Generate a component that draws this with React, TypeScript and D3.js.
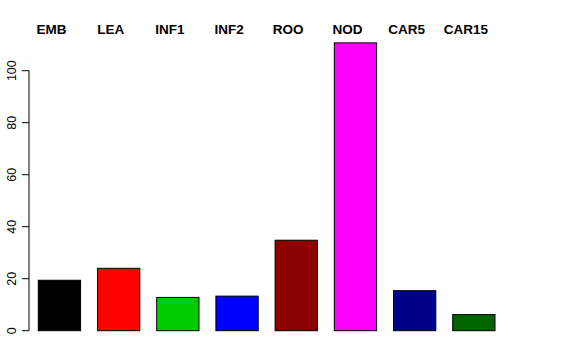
import React from "react";
import * as d3 from "d3";

const categories = ["EMB", "LEA", "INF1", "INF2", "ROO", "NOD", "CAR5", "CAR15"];
const values = [19.4, 24.0, 12.8, 13.3, 34.8, 110.7, 15.4, 6.2];
const colors = ["#000000", "#FF0000", "#00CD00", "#0000FF", "#8B0000", "#FF00FF", "#00008B", "#006400"];
const yTicks = [0, 20, 40, 60, 80, 100];

const W = 576;
const H = 360;

export default function App() {
  const x = d3.scaleBand<string>().domain(categories).range([38.3, 495]).paddingInner(0.4 / 1.4).paddingOuter(0);
  const y = d3.scaleLinear().domain([0, 100]).range([330.7, 70.7]);
  const axisX = 29;
  return (
    <svg width={W} height={H} style={{ position: "absolute", left: 0, top: 0, background: "#fff" }} fontFamily="'Liberation Sans', Arial, sans-serif">
      <rect x={0} y={0} width={W} height={H} fill="#fff" />
      {categories.map((c, i) => (
        <rect
          key={c}
          x={x(c)!}
          y={y(values[i])}
          width={x.bandwidth()}
          height={y(0) - y(values[i])}
          fill={colors[i]}
          stroke="#000"
          strokeWidth={1}
        />
      ))}
      {categories.map((c) => (
        <text key={c} x={x(c)! + x.bandwidth() / 2 - 8} y={34.3} textAnchor="middle" fontWeight="bold" fontSize={13.5}>
          {c}
        </text>
      ))}
      <line x1={axisX} x2={axisX} y1={y(0)} y2={y(100)} stroke="#000" />
      {yTicks.map((t) => (
        <g key={t}>
          <line x1={axisX} x2={axisX - 7} y1={y(t)} y2={y(t)} stroke="#000" />
          <text
            transform={`translate(${16},${y(t)}) rotate(-90)`}
            textAnchor="middle"
            fontSize={12.5}
          >
            {t}
          </text>
        </g>
      ))}
    </svg>
  );
}
